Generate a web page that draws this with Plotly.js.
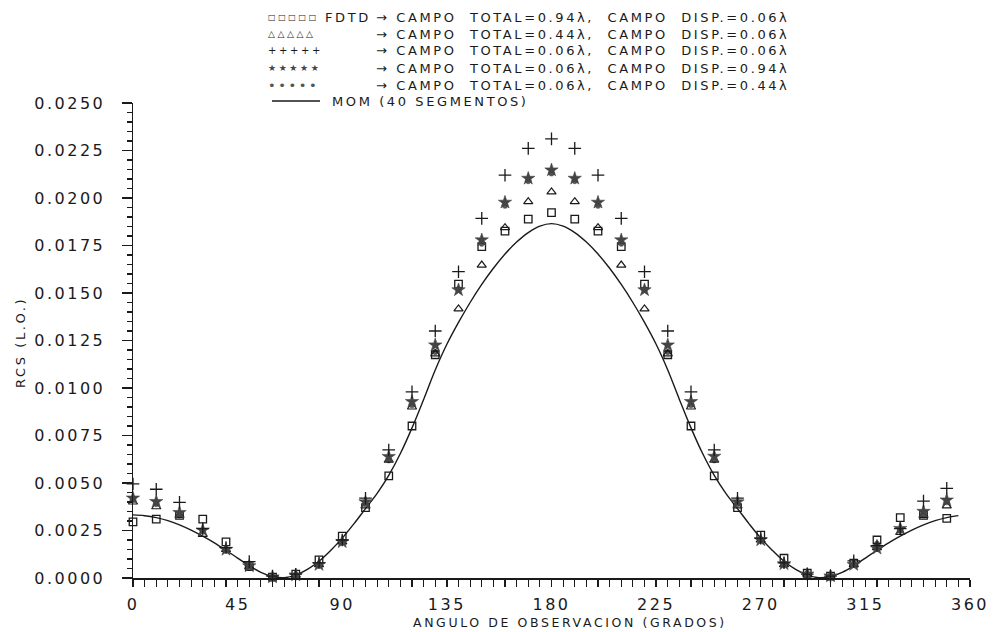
<!DOCTYPE html>
<html>
<head>
<meta charset="utf-8">
<script src="https://cdn.plot.ly/plotly-3.0.1.min.js"></script>
<style>
  html, body { margin: 0; padding: 0; background: #fff; }
  #chart { width: 1003px; height: 632px; }
  .main-svg .xtick text, .main-svg .ytick text { letter-spacing: 2.5px; }
  .main-svg .annotation-text { letter-spacing: 2.6px; }
</style>
</head>
<body>
<div id="chart"></div>
<script>
// Observation angles of the FDTD samples (degrees)
const angles = [0, 10, 20, 30, 40, 50, 60, 70, 80, 90, 100, 110, 120, 130, 140, 150, 160, 170,
                180, 190, 200, 210, 220, 230, 240, 250, 260, 270, 280, 290, 300, 310, 320, 330, 340, 350];

// FDTD: total field 0.94λ, scattered field 0.06λ
const fdtdT094D006 = [0.00295, 0.00310, 0.00330, 0.00310, 0.00190, 0.00060, 0.00005, 0.00020, 0.00095, 0.00220,
                      0.00370, 0.00537, 0.00800, 0.01175, 0.01547, 0.01744, 0.01826, 0.01889, 0.01923, 0.01889,
                      0.01826, 0.01744, 0.01547, 0.01175, 0.00800, 0.00537, 0.00370, 0.00226, 0.00104, 0.00025,
                      0.00010, 0.00078, 0.00200, 0.00318, 0.00330, 0.00314];
// total field 0.44λ, scattered field 0.06λ
const fdtdT044D006 = [0.00400, 0.00375, 0.00330, 0.00230, 0.00150, 0.00060, 0.00005, 0.00015, 0.00070, 0.00190,
                      0.00380, 0.00620, 0.00900, 0.01180, 0.01416, 0.01647, 0.01844, 0.01981, 0.02032, 0.01981,
                      0.01844, 0.01647, 0.01416, 0.01180, 0.00900, 0.00620, 0.00380, 0.00200, 0.00070, 0.00020,
                      0.00010, 0.00070, 0.00160, 0.00240, 0.00330, 0.00380];
// total field 0.06λ, scattered field 0.06λ
const fdtdT006D006 = [0.00495, 0.00467, 0.00398, 0.00260, 0.00160, 0.00086, 0.00010, 0.00020, 0.00080, 0.00200,
                      0.00420, 0.00674, 0.00980, 0.01300, 0.01612, 0.01893, 0.02120, 0.02261, 0.02311, 0.02261,
                      0.02120, 0.01893, 0.01612, 0.01300, 0.00980, 0.00674, 0.00420, 0.00210, 0.00080, 0.00020,
                      0.00010, 0.00090, 0.00170, 0.00260, 0.00405, 0.00472];
// total field 0.06λ, scattered field 0.94λ
const fdtdT006D094 = [0.00420, 0.00402, 0.00344, 0.00252, 0.00150, 0.00063, 0.00005, 0.00015, 0.00070, 0.00190,
                      0.00400, 0.00639, 0.00928, 0.01226, 0.01516, 0.01779, 0.01977, 0.02103, 0.02147, 0.02103,
                      0.01977, 0.01779, 0.01516, 0.01226, 0.00928, 0.00640, 0.00400, 0.00200, 0.00074, 0.00020,
                      0.00010, 0.00070, 0.00156, 0.00260, 0.00350, 0.00410];
// total field 0.06λ, scattered field 0.44λ
const fdtdT006D044 = [0.00410, 0.00390, 0.00330, 0.00250, 0.00150, 0.00060, 0.00005, 0.00015, 0.00070, 0.00190,
                      0.00390, 0.00620, 0.00910, 0.01190, 0.01520, 0.01760, 0.01960, 0.02090, 0.02130, 0.02090,
                      0.01960, 0.01760, 0.01520, 0.01190, 0.00910, 0.00620, 0.00390, 0.00200, 0.00070, 0.00020,
                      0.00010, 0.00070, 0.00180, 0.00250, 0.00330, 0.00400];

// Method of moments reference (40 segments)
const momAngles = [0, 5, 10, 15, 20, 25, 30, 35, 40, 45, 50, 55, 60, 65, 70, 75, 80, 85, 90, 95,
                   100, 105, 110, 115, 120, 125, 130, 135, 140, 145, 150, 155, 160, 165, 170, 175,
                   180, 185, 190, 195, 200, 205, 210, 215, 220, 225, 230, 235, 240, 245, 250, 255,
                   260, 265, 270, 275, 280, 285, 290, 295, 300, 305, 310, 315, 320, 325, 330, 335,
                   340, 345, 350, 355];
const momRcs = [0.00332, 0.00328, 0.00318, 0.00302, 0.00280, 0.00252, 0.00220, 0.00185, 0.00146, 0.00105,
                0.00064, 0.00030, 0.00008, 0.00002, 0.00015, 0.00045, 0.00088, 0.00145, 0.00210, 0.00285,
                0.00365, 0.00445, 0.00540, 0.00655, 0.00790, 0.00940, 0.01095, 0.01230, 0.01345, 0.01450,
                0.01545, 0.01630, 0.01705, 0.01768, 0.01818, 0.01852, 0.01865, 0.01852, 0.01818, 0.01768,
                0.01705, 0.01630, 0.01545, 0.01450, 0.01345, 0.01230, 0.01095, 0.00940, 0.00790, 0.00655,
                0.00540, 0.00445, 0.00365, 0.00285, 0.00210, 0.00145, 0.00088, 0.00045, 0.00015, 0.00002,
                0.00008, 0.00030, 0.00064, 0.00105, 0.00146, 0.00185, 0.00220, 0.00252, 0.00280, 0.00302,
                0.00318, 0.00328];

// Axis tick values
const xTicks = [0, 45, 90, 135, 180, 225, 270, 315, 360];
const yTicks = [0, 0.0025, 0.005, 0.0075, 0.01, 0.0125, 0.015, 0.0175, 0.02, 0.0225, 0.025];

// Axis titles
const xTitle = 'ANGULO DE OBSERVACION (GRADOS)';
const yTitle = 'RCS (L.O.)';

// Legend entries
const legendGlyphs = ['□□□□□', '△△△△△', '+++++', '★★★★★', '•••••'];
const legendTexts = [
  '→ CAMPO\u00A0 TOTAL=0.94λ,\u00A0 CAMPO\u00A0 DISP.=0.06λ',
  '→ CAMPO\u00A0 TOTAL=0.44λ,\u00A0 CAMPO\u00A0 DISP.=0.06λ',
  '→ CAMPO\u00A0 TOTAL=0.06λ,\u00A0 CAMPO\u00A0 DISP.=0.06λ',
  '→ CAMPO\u00A0 TOTAL=0.06λ,\u00A0 CAMPO\u00A0 DISP.=0.94λ',
  '→ CAMPO\u00A0 TOTAL=0.06λ,\u00A0 CAMPO\u00A0 DISP.=0.44λ'
];
const methodLabel = 'FDTD';
const momLabel = 'MOM (40 SEGMENTOS)';

// ---- plot geometry (pixels) ----
const W = 1003, H = 632;
const M = { l: 133, r: 33, t: 103, b: 54 };
const plotW = W - M.l - M.r, plotH = H - M.t - M.b;
const px = x => (x - M.l) / plotW;          // page x -> paper x
const py = y => (H - M.b - y) / plotH;      // page y -> paper y

const ink = '#1a1a1a';
const font = 'DejaVu Sans, Arial, sans-serif';

function markers(y, symbol, size, color, lineWidth) {
  return {
    x: angles, y: y, type: 'scatter', mode: 'markers', cliponaxis: false, showlegend: false,
    marker: { symbol: symbol, size: size, color: color, line: { color: color, width: lineWidth } }
  };
}

const traces = [
  {
    x: momAngles, y: momRcs, type: 'scatter', mode: 'lines', showlegend: false,
    line: { color: ink, width: 1.4, shape: 'spline', smoothing: 1 }
  },
  markers(fdtdT006D044, 'octagon', 6, '#555555', 0.5),
  markers(fdtdT094D006, 'square-open', 7.5, ink, 1.3),
  markers(fdtdT044D006, 'triangle-up-open', 8, ink, 1.2),
  markers(fdtdT006D094, 'star', 10, '#444444', 0.6),
  markers(fdtdT006D006, 'cross-thin-open', 9, ink, 1.3)
];

// Left-aligned text placed at a page position
function label(text, x, y, size, color) {
  return {
    xref: 'paper', yref: 'paper', x: px(x), y: py(y), xanchor: 'left', yanchor: 'middle', align: 'left',
    text: text, showarrow: false, font: { family: font, size: size, color: color }
  };
}

// Legend drawn as text rows above the plot
const rowY = [17, 34, 51, 68, 85];
const glyphFont = [
  { size: 8, color: ink },
  { size: 9, color: ink },
  { size: 10, color: ink },
  { size: 9, color: '#444444' },
  { size: 13, color: '#555555' }
];
const annotations = [];
legendGlyphs.forEach((g, i) => {
  annotations.push(label(g, 266, rowY[i], glyphFont[i].size, glyphFont[i].color));
  annotations.push(label(legendTexts[i], 374, rowY[i], 13, ink));
});
annotations.push(label(methodLabel, 323, rowY[0], 13, ink));
annotations.push(label(momLabel, 330, 101, 13, ink));

// Axis titles
annotations.push({
  xref: 'paper', yref: 'paper', x: px(570), y: py(622), xanchor: 'center', yanchor: 'middle',
  text: xTitle, showarrow: false, font: { family: font, size: 12.5, color: ink }
});
annotations.push({
  xref: 'paper', yref: 'paper', x: px(20), y: py(343), xanchor: 'center', yanchor: 'middle',
  textangle: -90, text: yTitle, showarrow: false, font: { family: font, size: 13, color: ink }
});

const shapes = [{
  type: 'line', xref: 'paper', yref: 'paper',
  x0: px(272), x1: px(320), y0: py(101), y1: py(101),
  line: { color: ink, width: 1.4 }
}];

const layout = {
  width: W, height: H,
  margin: M,
  paper_bgcolor: '#ffffff', plot_bgcolor: '#ffffff',
  showlegend: false,
  font: { family: font, color: ink },
  xaxis: {
    range: [0, 360], tickvals: xTicks, ticktext: xTicks.map(String),
    showgrid: false, zeroline: false, showline: true, linecolor: ink, linewidth: 1.5,
    ticks: 'outside', ticklen: 7, tickwidth: 1.3, tickcolor: ink,
    ticklabelstandoff: 4,
    minor: { dtick: 5, ticks: 'outside', ticklen: 7, tickwidth: 1.1, tickcolor: ink, showgrid: false },
    tickfont: { family: font, size: 16, color: ink }
  },
  yaxis: {
    range: [0, 0.025], tickvals: yTicks, ticktext: yTicks.map(v => v.toFixed(4)),
    showgrid: false, zeroline: false, showline: true, linecolor: ink, linewidth: 1.5,
    ticks: 'outside', ticklen: 10, tickwidth: 1.3, tickcolor: ink,
    ticklabelstandoff: 13,
    minor: { dtick: 0.0005, ticks: 'outside', ticklen: 5, tickwidth: 1.1, tickcolor: ink, showgrid: false },
    tickfont: { family: font, size: 16, color: ink }
  },
  annotations: annotations,
  shapes: shapes
};

Plotly.newPlot('chart', traces, layout, { displayModeBar: false, staticPlot: true });
</script>
</body>
</html>
